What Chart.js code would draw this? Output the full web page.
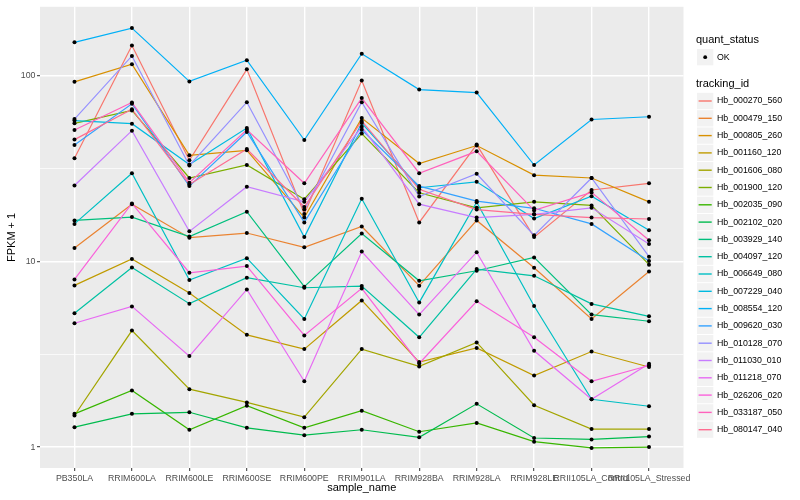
<!DOCTYPE html>
<html>
<head>
<meta charset="utf-8">
<script src="https://cdn.jsdelivr.net/npm/chart.js@4.4.0/dist/chart.umd.min.js"></script>
<style>
  html, body { margin: 0; padding: 0; background: #fff; }
  #wrap { width: 800px; height: 500px; }
</style>
</head>
<body>
<div id="wrap"><canvas id="chart" width="800" height="500"></canvas></div>
<script>
// Data
const sampleNames = ["PB350LA", "RRIM600LA", "RRIM600LE", "RRIM600SE", "RRIM600PE", "RRIM901LA",
  "RRIM928BA", "RRIM928LA", "RRIM928LE", "RRII105LA_Control", "RRII105LA_Stressed"];

const trackingIds = ["Hb_000270_560", "Hb_000479_150", "Hb_000805_260", "Hb_001160_120", "Hb_001606_080",
  "Hb_001900_120", "Hb_002035_090", "Hb_002102_020", "Hb_003929_140", "Hb_004097_120",
  "Hb_006649_080", "Hb_007229_040", "Hb_008554_120", "Hb_009620_030", "Hb_010128_070",
  "Hb_011030_010", "Hb_011218_070", "Hb_026206_020", "Hb_033187_050", "Hb_080147_040"];

const colors = ["#F8766D", "#EA8331", "#D89000", "#C09B00", "#A3A500", "#7CAE00", "#39B600", "#00BB4E",
  "#00BF7D", "#00C1A3", "#00BFC4", "#00BAE0", "#00B0F6", "#35A2FF", "#9590FF", "#C77CFF",
  "#E76BF3", "#FA62DB", "#FF62BC", "#FF6C91"];

// FPKM + 1 per sample
const hb000270 = [35.9, 145, 35, 108, 18.0, 94, 16.2, 42.5, 13.5, 24.2, 26.3];
const hb000479 = [11.8, 20.3, 13.4, 14.2, 11.9, 15.4, 7.39, 16.6, 9.23, 4.90, 8.82];
const hb000805 = [92.5, 115, 37.2, 39.6, 17.2, 59, 33.6, 42, 29.1, 28.1, 20.9];
const hb001160 = [7.42, 10.3, 6.75, 4.02, 3.37, 6.16, 2.87, 3.42, 2.43, 3.27, 2.70];
const hb001606 = [1.48, 4.24, 2.05, 1.74, 1.45, 3.37, 2.72, 3.66, 1.68, 1.25, 1.25];
const hb001900 = [55.3, 64.9, 28.1, 33.0, 21.6, 48.7, 23.4, 19.4, 20.9, 20.0, 9.6];
const hb002035 = [1.51, 2.02, 1.24, 1.67, 1.27, 1.57, 1.21, 1.35, 1.07, 0.99, 1.0];
const hb002102 = [1.28, 1.51, 1.54, 1.27, 1.16, 1.24, 1.13, 1.71, 1.12, 1.10, 1.14];
const hb003929 = [16.6, 17.3, 13.6, 18.5, 7.30, 14.1, 7.86, 8.90, 10.5, 5.17, 4.76];
const hb004097 = [5.25, 9.27, 5.92, 8.16, 7.21, 7.36, 3.90, 9.08, 8.36, 5.90, 5.06];
const hb006649 = [15.9, 29.8, 7.93, 10.4, 4.90, 21.7, 6.01, 20.8, 5.75, 1.81, 1.66];
const hb007229 = [57.2, 55.1, 33.2, 52.2, 13.5, 55.5, 24.9, 26.8, 17.0, 22.4, 14.7];
const hb008554 = [151, 180, 93, 121, 45, 131, 84, 81, 33, 58, 60];
const hb009620 = [42.3, 70.5, 25.4, 49.7, 16.2, 51.1, 25.4, 21.1, 19.3, 15.9, 10.05];
const hb010128 = [58.3, 127.5, 32.8, 71.9, 19.0, 71.9, 22.3, 29.6, 13.8, 28.1, 10.6];
const hb011030 = [25.6, 50.5, 14.5, 25.2, 20.9, 53, 20.3, 17.2, 17.9, 19.4, 12.4];
const hb011218 = [4.64, 5.72, 3.09, 7.06, 2.26, 11.3, 5.17, 11.2, 3.30, 1.81, 2.81];
const hb026206 = [7.99, 20.5, 8.68, 9.43, 3.99, 7.15, 2.82, 6.09, 3.90, 2.26, 2.75];
const hb033187 = [50.9, 71.7, 26.5, 51.1, 26.3, 75.6, 29.8, 39.1, 18.8, 23.5, 13.0];
const hb080147 = [45.2, 65.9, 25.9, 40.2, 19.6, 57, 24.4, 19.0, 17.9, 17.2, 16.9];

const seriesValues = [hb000270, hb000479, hb000805, hb001160, hb001606, hb001900, hb002035, hb002102,
  hb003929, hb004097, hb006649, hb007229, hb008554, hb009620, hb010128, hb011030,
  hb011218, hb026206, hb033187, hb080147];

const yBreaks = [1, 10, 100];
const yMinorBreaks = [3.162, 31.62];

const FONT = '"Liberation Sans", Arial, sans-serif';

// datasets: lines first (later genes on top), black points over everything
const lineSets = trackingIds.map((id, i) => ({
  label: id,
  data: seriesValues[i].map((v, j) => ({ x: j, y: v })),
  borderColor: colors[i],
  borderWidth: 1.2,
  pointRadius: 0,
  fill: false,
  tension: 0,
  order: 100 - i,
}));
const pointSets = trackingIds.map((id, i) => ({
  label: id + " OK",
  data: seriesValues[i].map((v, j) => ({ x: j, y: v })),
  showLine: false,
  pointRadius: 2,
  pointBackgroundColor: "#000",
  pointBorderWidth: 0,
  order: 0,
}));

// grey panel background
const panelBg = {
  id: "panelBg",
  beforeDraw(chart) {
    const { ctx, chartArea: { left, top, right, bottom } } = chart;
    ctx.save();
    ctx.fillStyle = "#fff";
    ctx.fillRect(0, 0, chart.width, chart.height);
    ctx.fillStyle = "#EBEBEB";
    ctx.fillRect(left, top, right - left, bottom - top);
    ctx.restore();
  },
};

// ggplot-like legend at the right
const ggLegend = {
  id: "ggLegend",
  afterDraw(chart) {
    const ctx = chart.ctx;
    const x0 = 697;
    ctx.save();
    ctx.textBaseline = "middle";
    ctx.textAlign = "left";
    ctx.fillStyle = "#000";
    ctx.font = "11px " + FONT;
    ctx.fillText("quant_status", x0 - 1, 40);
    ctx.fillStyle = "#F2F2F2";
    ctx.fillRect(x0, 49, 16.3, 16.3);
    ctx.fillStyle = "#000";
    ctx.beginPath();
    ctx.arc(x0 + 8.2, 57.2, 1.9, 0, 2 * Math.PI);
    ctx.fill();
    ctx.font = "8.8px " + FONT;
    ctx.fillText("OK", x0 + 20, 57.2);

    ctx.font = "11px " + FONT;
    ctx.fillText("tracking_id", x0 - 1, 84.3);
    trackingIds.forEach((id, i) => {
      const cy = 101 + i * 17.3;
      ctx.fillStyle = "#F2F2F2";
      ctx.fillRect(x0, cy - 8.15, 16.3, 16.3);
      ctx.strokeStyle = colors[i];
      ctx.lineWidth = 1.4;
      ctx.beginPath();
      ctx.moveTo(x0 + 1.6, cy);
      ctx.lineTo(x0 + 14.7, cy);
      ctx.stroke();
      ctx.fillStyle = "#000";
      ctx.font = "8.8px " + FONT;
      ctx.fillText(id, x0 + 20, cy);
    });
    ctx.restore();
  },
};

new Chart(document.getElementById("chart"), {
  type: "line",
  data: { datasets: [...lineSets, ...pointSets] },
  options: {
    responsive: false,
    animation: false,
    layout: { padding: { left: 0, right: 116.5, top: 5, bottom: 0 } },
    plugins: {
      legend: { display: false },
      tooltip: { enabled: false },
    },
    scales: {
      x: {
        type: "linear",
        min: -0.6,
        max: 10.6,
        afterBuildTicks: (scale) => {
          scale.ticks = sampleNames.map((n, i) => ({ value: i }));
        },
        afterFit: (scale) => { scale.height = 32; },
        border: { display: false },
        grid: {
          color: "#fff",
          lineWidth: 1.4,
          tickColor: "#333333",
          tickLength: 3,
          tickWidth: 1,
        },
        ticks: {
          autoSkip: false,
          maxRotation: 0,
          minRotation: 0,
          padding: 2,
          color: "#4D4D4D",
          font: { family: FONT, size: 8.8 },
          callback: (v) => sampleNames[v],
        },
        title: {
          display: true,
          text: "sample_name",
          color: "#000",
          font: { family: FONT, size: 11 },
          padding: { top: 0, bottom: 5 },
        },
      },
      y: {
        type: "logarithmic",
        min: 0.772,
        max: 234.5,
        afterBuildTicks: (scale) => {
          scale.ticks = [...yBreaks, ...yMinorBreaks].sort((a, b) => a - b).map((v) => ({ value: v }));
        },
        afterFit: (scale) => { scale.width = 40; },
        border: { display: false },
        grid: {
          color: "#fff",
          lineWidth: (c) => (yBreaks.includes(c.tick.value) ? 1.4 : 0.7),
          tickColor: (c) => (yBreaks.includes(c.tick.value) ? "#333333" : "rgba(0,0,0,0)"),
          tickLength: 3,
          tickWidth: 1,
        },
        ticks: {
          padding: 1.5,
          color: "#4D4D4D",
          font: { family: FONT, size: 8.8 },
          callback: (v) => (yBreaks.includes(v) ? String(v) : ""),
        },
        title: {
          display: true,
          text: "FPKM + 1",
          color: "#000",
          font: { family: FONT, size: 11 },
          padding: { top: 5.4, bottom: 0 },
        },
      },
    },
  },
  plugins: [panelBg, ggLegend],
});
</script>
</body>
</html>
